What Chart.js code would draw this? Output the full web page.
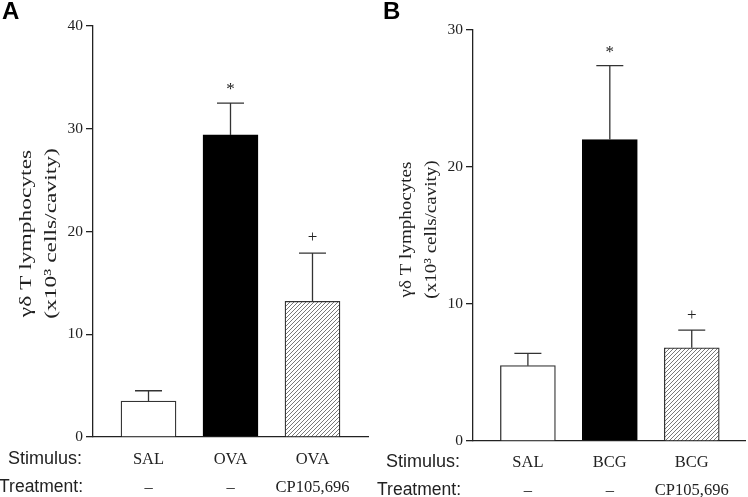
<!DOCTYPE html>
<html>
<head>
<meta charset="utf-8">
<script src="https://cdn.jsdelivr.net/npm/chart.js@4"></script>
<style>
  html, body { margin: 0; padding: 0; background: #fff; }
  #wrap { position: relative; width: 748px; height: 497px; }
  canvas { position: absolute; top: 0; }
  #cA { left: 0; }
  #cB { left: 374px; }
</style>
</head>
<body>
<div id="wrap">
  <canvas id="cA" width="374" height="497"></canvas>
  <canvas id="cB" width="374" height="497"></canvas>
</div>
<script>
// ---------- data ----------
const rowLabels = ['Stimulus:', 'Treatment:'];
const yTitleLines = ['γδ T lymphocytes', '(x10³ cells/cavity)'];

const stimulusA = ['SAL', 'OVA', 'OVA'];
const treatmentA = ['–', '–', 'CP105,696'];
const valuesA = [3.5, 29.4, 13.2];
const errorsA = [1.0, 3.1, 4.7];
const markersA = ['', '*', '+'];
const yMaxA = 40;
const yStepA = 10;

const stimulusB = ['SAL', 'BCG', 'BCG'];
const treatmentB = ['–', '–', 'CP105,696'];
const valuesB = [5.5, 22.0, 6.8];
const errorsB = [0.9, 5.4, 1.3];
const markersB = ['', '*', '+'];
const yMaxB = 30;
const yStepB = 10;

// ---------- styles ----------
function hatchPattern() {
  const s = 4;
  const c = document.createElement('canvas');
  c.width = s; c.height = s;
  const g = c.getContext('2d');
  g.fillStyle = '#fff';
  g.fillRect(0, 0, s, s);
  g.strokeStyle = '#555';
  g.lineWidth = 0.8;
  g.beginPath();
  g.moveTo(0, s); g.lineTo(s, 0);
  g.moveTo(-1, 1); g.lineTo(1, -1);
  g.moveTo(s - 1, s + 1); g.lineTo(s + 1, s - 1);
  g.stroke();
  return g.createPattern(c, 'repeat');
}

const SERIF = "'Liberation Serif', 'DejaVu Serif', serif";
const SANS = "'Liberation Sans', Arial, sans-serif";
const INK = '#222';

const annotPlugin = {
  id: 'annot',
  afterDraw(chart) {
    const o = chart.options.plugins.annot;
    const ctx = chart.ctx;
    const ca = chart.chartArea;
    const xs = chart.scales.x, ys = chart.scales.y;
    const meta = chart.getDatasetMeta(0);
    ctx.save();
    // error bars + markers
    ctx.strokeStyle = '#333';
    ctx.lineWidth = 1.3;
    meta.data.forEach((bar, i) => {
      const x = bar.x;
      const yTop = ys.getPixelForValue(o.values[i] + o.errors[i]);
      ctx.beginPath();
      ctx.moveTo(x, bar.y);
      ctx.lineTo(x, yTop);
      ctx.moveTo(x - 13.5, yTop);
      ctx.lineTo(x + 13.5, yTop);
      ctx.stroke();
      const m = o.markers[i];
      if (m) {
        ctx.font = '17px ' + SERIF;
        ctx.fillStyle = INK;
        ctx.textAlign = 'center';
        ctx.textBaseline = 'alphabetic';
        const tm = ctx.measureText(m);
        const cy = yTop - o.markerGap;
        const base = cy + (tm.actualBoundingBoxAscent - tm.actualBoundingBoxDescent) / 2;
        ctx.fillText(m, x, base);
      }
    });
    // category labels
    ctx.fillStyle = INK;
    ctx.textBaseline = 'alphabetic';
    ctx.textAlign = 'center';
    ctx.font = '16.5px ' + SERIF;
    o.stimulus.forEach((s, i) => {
      const x = xs.getPixelForValue(i);
      ctx.fillText(s, x, ca.bottom + o.row1);
      ctx.fillText(o.treatment[i], x, ca.bottom + o.row2);
    });
    // row labels
    ctx.textAlign = 'right';
    ctx.font = '18px ' + SANS;
    ctx.fillText(rowLabels[0], ca.left - o.rowRight, ca.bottom + o.row1);
    ctx.font = '17.5px ' + SANS;
    ctx.fillText(rowLabels[1], ca.left - o.rowRight + 1, ca.bottom + o.row2);
    // y title
    ctx.font = '17px ' + SERIF;
    ctx.textAlign = 'center';
    ctx.textBaseline = 'middle';
    const cy = (ca.top + ca.bottom) / 2 + o.titleShift;
    [66, 41].forEach((dx, k) => {
      ctx.save();
      ctx.translate(ca.left - dx, cy);
      ctx.rotate(-Math.PI / 2);
      ctx.scale(o.titleStretch, 1);
      ctx.fillText(yTitleLines[k], 0, 0);
      ctx.restore();
    });
    // panel letter
    ctx.font = 'bold 24px ' + SANS;
    ctx.fillStyle = '#000';
    ctx.textAlign = 'left';
    ctx.textBaseline = 'alphabetic';
    ctx.fillText(o.letter, o.letterX, 19);
    ctx.restore();
  }
};

function makePanel(id, p) {
  const hatch = hatchPattern();
  const fills = ['#fff', '#000', hatch];
  const borders = ['#333', '#000', '#333'];
  return new Chart(document.getElementById(id), {
    type: 'bar',
    data: {
      datasets: [{
        data: p.values.map((v, i) => ({ x: i, y: v })),
        backgroundColor: fills,
        borderColor: borders,
        borderWidth: 1.3,
        borderSkipped: 'start',
        barThickness: 55
      }]
    },
    options: {
      responsive: false,
      animation: false,
      devicePixelRatio: 1,
      layout: { padding: { left: 0, top: p.padTop, right: p.padRight, bottom: p.padBottom } },
      plugins: {
        legend: { display: false },
        tooltip: { enabled: false },
        annot: p.annot
      },
      scales: {
        x: {
          type: 'linear',
          offset: false,
          min: p.xMin, max: p.xMax,
          ticks: { display: false },
          grid: { display: false, offset: false },
          border: { display: true, color: INK, width: 1.3 },
          afterFit(s) { s.height = 0; }
        },
        y: {
          min: 0, max: p.yMax,
          ticks: { stepSize: p.yStep, color: INK, padding: 3, font: { family: SERIF, size: 15.5 } },
          grid: { drawOnChartArea: false, drawTicks: true, tickLength: 7, color: INK, lineWidth: 1.3 },
          border: { display: true, color: INK, width: 1.3 },
          afterFit(s) { s.width = p.yWidth; }
        }
      }
    },
    plugins: [annotPlugin]
  });
}

makePanel('cA', {
  values: valuesA, yMax: yMaxA, yStep: yStepA,
  xMin: -0.677, xMax: 2.677,
  padTop: 26, padRight: 6, padBottom: 60, yWidth: 93,
  annot: {
    values: valuesA, errors: errorsA, markers: markersA,
    stimulus: stimulusA, treatment: treatmentA,
    row1: 27, row2: 55, rowRight: 11, markerGap: 17,
    titleShift: 2, titleStretch: 1.38, letter: 'A', letterX: 2
  }
});

makePanel('cB', {
  values: valuesB, yMax: yMaxB, yStep: yStepB,
  xMin: -0.67, xMax: 2.65,
  padTop: 30, padRight: 3, padBottom: 56, yWidth: 99,
  annot: {
    values: valuesB, errors: errorsB, markers: markersB,
    stimulus: stimulusB, treatment: treatmentB,
    row1: 25.5, row2: 53.5, rowRight: 13, markerGap: 16,
    titleShift: -6, titleStretch: 1.12, letter: 'B', letterX: 9
  }
});
</script>
</body>
</html>
